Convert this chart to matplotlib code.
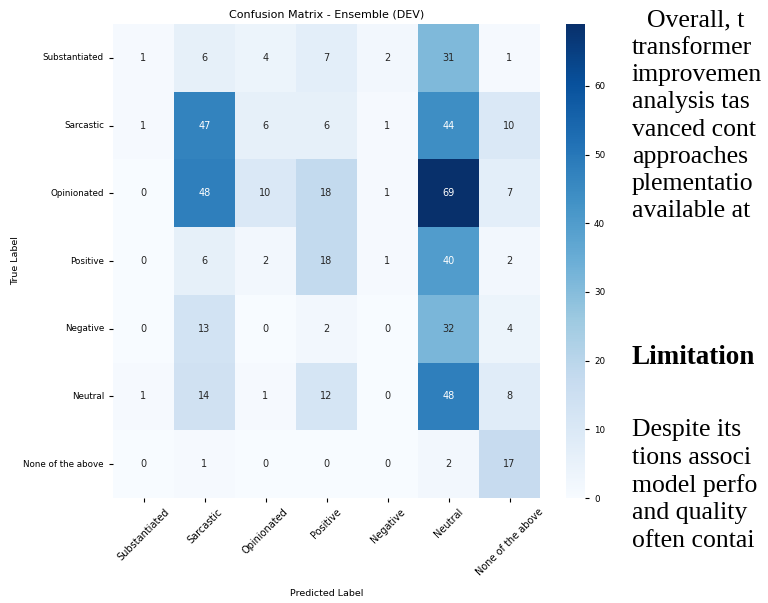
import matplotlib
matplotlib.use("Agg")
import matplotlib.pyplot as plt
import seaborn as sns
import numpy as np

labels = ["Substantiated", "Sarcastic", "Opinionated", "Positive", "Negative", "Neutral", "None of the above"]
row_substantiated = [1, 6, 4, 7, 2, 31, 1]
row_sarcastic = [1, 47, 6, 6, 1, 44, 10]
row_opinionated = [0, 48, 10, 18, 1, 69, 7]
row_positive = [0, 6, 2, 18, 1, 40, 2]
row_negative = [0, 13, 0, 2, 0, 32, 4]
row_neutral = [1, 14, 1, 12, 0, 48, 8]
row_none = [0, 1, 0, 0, 0, 2, 17]

cm = np.array([row_substantiated, row_sarcastic, row_opinionated, row_positive,
               row_negative, row_neutral, row_none])

fig = plt.figure(figsize=(7.68, 6.03), dpi=100)
ax = fig.add_axes([113/768, 1 - 498/603, (540-113)/768, (498-24)/603])
cax = fig.add_axes([566/768, 1 - 498/603, 19/768, (498-24)/603])

sns.heatmap(cm, annot=True, fmt="d", cmap="Blues", ax=ax, cbar_ax=cax,
            xticklabels=labels, yticklabels=labels, annot_kws={"fontsize": 7})
ax.set_title("Confusion Matrix - Ensemble (DEV)", fontsize=8, pad=5)
ax.set_xlabel("Predicted Label", fontsize=6.8)
ax.set_ylabel("True Label", fontsize=6.8)
ax.xaxis.set_label_coords(0.5, (498 - 589) / 474)
ax.yaxis.set_label_coords((20 - 113) / 427, 0.5)
ax.tick_params(axis="y", labelsize=6.3, length=3)
ax.tick_params(axis="x", labelsize=7, length=3)
plt.setp(ax.get_xticklabels(), rotation=45, ha="center")
plt.setp(ax.get_yticklabels(), rotation=0)
cax.tick_params(labelsize=6.3, length=3)

serif = "Liberation Serif"
fs = 18.5
lines_top = [(647, 20, "Overall, t"), (632, 48, "transformer"),
             (632, 75, "improvemen"), (632, 102, "analysis tas"),
             (632, 130, "vanced cont"), (632, 157, "approaches"),
             (632, 184, "plementatio"), (632, 211, "available at")]
for x, y, t in lines_top:
    fig.text(x/768, 1 - y/603, t, fontsize=fs, family=serif, va="center", ha="left")
fig.text(632/768, 1 - 357/603, "Limitation", fontsize=fs + 1, family=serif,
         weight="bold", va="center", ha="left")
lines_bot = [(430, "Despite its"), (458, "tions associ"),
             (486, "model perfo"), (513, "and quality"),
             (541, "often contai")]
for y, t in lines_bot:
    fig.text(632/768, 1 - y/603, t, fontsize=fs, family=serif, va="center", ha="left")

fig.savefig("out.png", dpi=100)
